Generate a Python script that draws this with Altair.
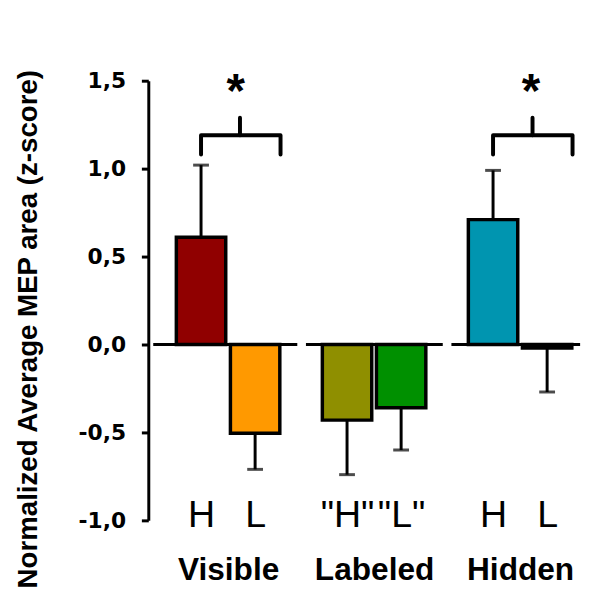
import altair as alt
import pandas as pd

# ---- data ----
conditions = ["Visible H", "Visible L", "Labeled H", "Labeled L", "Hidden H", "Hidden L"]
bar_labels = ["H", "L", '"H"', '"L"', "H", "L"]
positions = [0, 1, 2.7, 3.7, 5.4, 6.4]
means = [0.61, -0.505, -0.43, -0.36, 0.71, -0.02]
err_ends = [1.02, -0.71, -0.74, -0.60, 0.99, -0.27]
colors = ["#900000", "#FF9900", "#8F8F00", "#009000", "#0095B0", "#202020"]

groups = ["Visible", "Labeled", "Hidden"]
group_centers = [0.5, 3.2, 5.9]

zero_seg_start = [-0.884, 1.94, 4.63]
zero_seg_end = [1.78, 4.47, 7.01]

bracket_left = [0, 5.4]
bracket_right = [1.47, 6.87]
bracket_center = [0.72, 6.13]
star_x = [0.64, 6.1]
bracket_leg_bottom = 1.08
bracket_bar = 1.19
bracket_tick_top = 1.29
star_y = 1.35

y_ticks = [-1.0, -0.5, 0.0, 0.5, 1.0, 1.5]

# ---- tables ----
bars = pd.DataFrame({"cond": conditions, "pos": positions, "mean": means, "err": err_ends})
zero = pd.DataFrame({"x0": zero_seg_start, "x1": zero_seg_end})

rows = []
for i, (l, r, c) in enumerate(zip(bracket_left, bracket_right, bracket_center)):
    pts = [(l, bracket_leg_bottom), (l, bracket_bar), (r, bracket_bar), (r, bracket_leg_bottom)]
    for k, (xx, yy) in enumerate(pts):
        rows.append({"id": f"b{i}", "ord": k, "x": xx, "y": yy})
    rows.append({"id": f"t{i}", "ord": 0, "x": c, "y": bracket_bar})
    rows.append({"id": f"t{i}", "ord": 1, "x": c, "y": bracket_tick_top})
brackets = pd.DataFrame(rows)
stars = pd.DataFrame({"x": star_x, "y": [star_y] * len(star_x)})
grp = pd.DataFrame({"x": group_centers, "g": groups})

xscale = alt.Scale(domain=[-0.884, 7.009], nice=False, zero=False)
yscale = alt.Scale(domain=[-1.0, 1.5], nice=False, zero=False)


def ternary(vals, labels):
    expr = "''"
    for v, l in reversed(list(zip(vals, labels))):
        expr = f"abs(datum.value - {v}) < 0.001 ? '{l}' : {expr}"
    return expr


yaxis = alt.Axis(
    values=y_ticks,
    labelExpr="(datum.value < 0 ? '-' : '') + replace(format(abs(datum.value), '.1f'), '.', ',')",
    grid=False,
    domainColor="black", domainWidth=3,
    tickColor="black", tickWidth=3, tickSize=7,
    labelFont="DejaVu Sans", labelFontWeight="bold", labelFontSize=22, labelColor="black",
    labelPadding=16,
    title="Normalized Average MEP area (z-score)",
    titleFont="Liberation Sans", titleFontWeight="bold", titleFontSize=28, titleColor="black",
    titleAngle=270, titleAlign="center", titleBaseline="alphabetic",
    titleX=-113, titleY=251,
)

xaxis_bars = alt.Axis(
    orient="bottom",
    values=positions, labelExpr=ternary(positions, bar_labels),
    domain=False, ticks=False, tickSize=0, grid=False,
    labelFont="Liberation Sans", labelFontSize=38, labelFontWeight="normal",
    labelColor="black",
    labelBaseline="alphabetic", labelPadding=6, labelOverlap=False, labelFlush=False,
    title=None,
)
xaxis_groups = alt.Axis(
    orient="bottom",
    values=group_centers, labelExpr=ternary(group_centers, groups),
    domain=False, ticks=False, tickSize=0, grid=False,
    labelFont="Liberation Sans", labelFontSize=32, labelFontWeight="bold", labelColor="black",
    labelBaseline="alphabetic", labelPadding=60, labelOverlap=False, labelFlush=False,
    title=None,
)

errline = alt.Chart(bars).mark_rule(color="black", strokeWidth=3).encode(
    x=alt.X("pos:Q", scale=xscale, axis=None),
    y=alt.Y("mean:Q", scale=yscale, axis=yaxis),
    y2="err:Q",
)
errcap = alt.Chart(bars).mark_tick(color="black", orient="horizontal", size=16, thickness=3).encode(
    x=alt.X("pos:Q", scale=xscale, axis=None),
    y=alt.Y("err:Q", scale=yscale),
)
barlayer = alt.Chart(bars).mark_bar(size=50, stroke="black", strokeWidth=3.5).encode(
    x=alt.X("pos:Q", scale=xscale, axis=xaxis_bars),
    y=alt.Y("mean:Q", scale=yscale),
    y2=alt.datum(0),
    fill=alt.Fill("cond:N", scale=alt.Scale(domain=conditions, range=colors), legend=None),
)
zeroline = alt.Chart(zero).mark_rule(color="black", strokeWidth=3).encode(
    x=alt.X("x0:Q", scale=xscale, axis=None),
    x2="x1:Q",
    y=alt.datum(0, scale=yscale),
)
bracketlayer = alt.Chart(brackets).mark_line(
    color="black", strokeWidth=4, strokeCap="round", strokeJoin="round"
).encode(
    x=alt.X("x:Q", scale=xscale, axis=None),
    y=alt.Y("y:Q", scale=yscale),
    detail="id:N",
    order="ord:Q",
)
starlayer = alt.Chart(stars).mark_text(
    text="*", font="Liberation Sans", fontWeight="bold", fontSize=48, baseline="alphabetic", color="black"
).encode(
    x=alt.X("x:Q", scale=xscale, axis=None),
    y=alt.Y("y:Q", scale=yscale),
)
grouplayer = alt.Chart(grp).mark_point(opacity=0).encode(
    x=alt.X("x:Q", scale=xscale, axis=xaxis_groups),
    y=alt.datum(-1.0, scale=yscale),
)

chart = alt.layer(
    errline, errcap, barlayer, zeroline, bracketlayer, starlayer, grouplayer
).resolve_axis(x="independent").properties(
    width=442, height=445,
    autosize=alt.AutoSizeParams(type="none"),
    padding={"left": 142, "top": 70, "right": 0, "bottom": 76},
    background="white",
).configure_view(stroke=None)

chart.save("out.html", embed_options={"renderer": "svg", "actions": False})
